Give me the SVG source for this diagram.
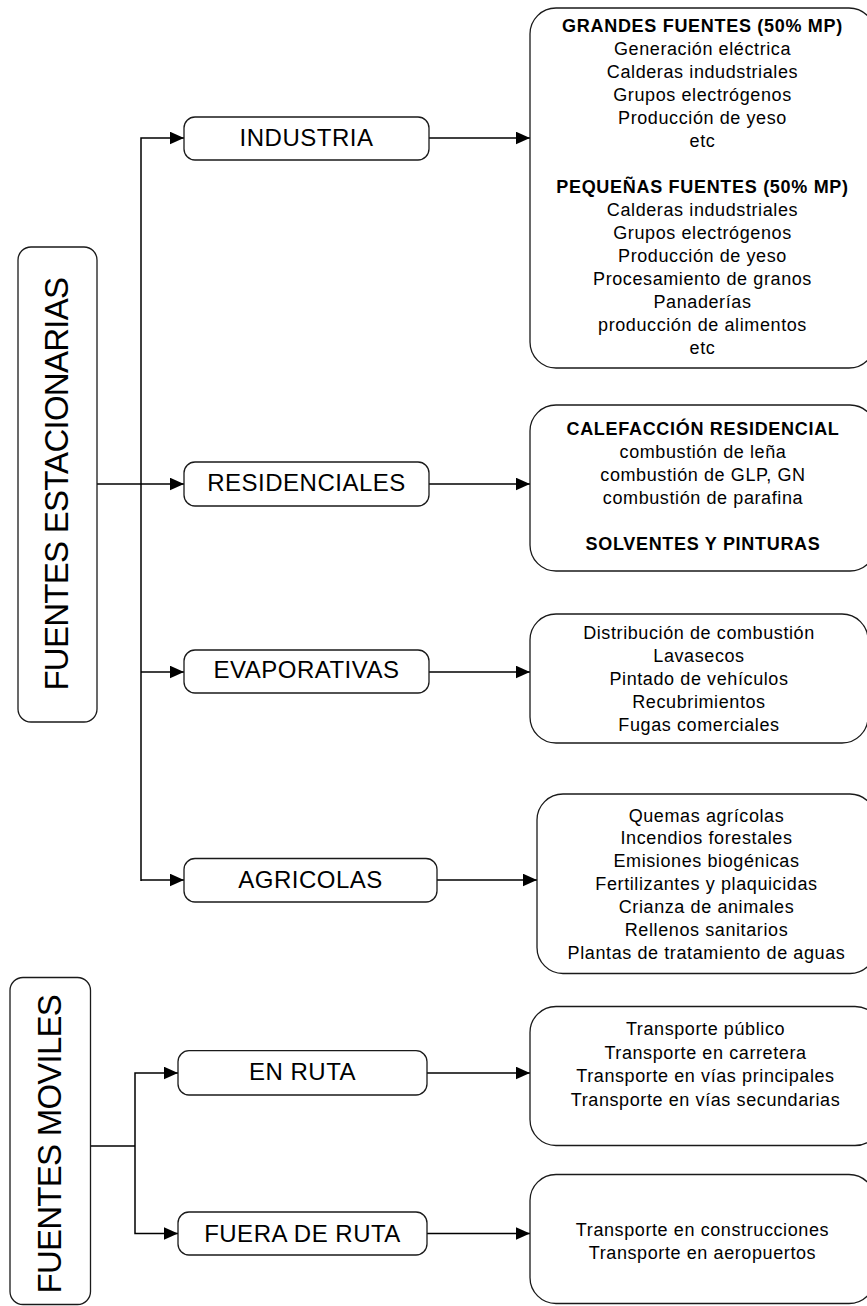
<svg xmlns="http://www.w3.org/2000/svg" width="867" height="1306" viewBox="0 0 867 1306">
<style>
  .box { fill: #ffffff; stroke: #1a1a1a; stroke-width: 1.3; }
  .conn { fill: none; stroke: #000000; stroke-width: 1.5; }
  .big { font-family: "Liberation Sans", Arial, sans-serif; font-size: 33px; letter-spacing: -0.75px; fill: #000; text-anchor: middle; }
  .mid { font-family: "Liberation Sans", Arial, sans-serif; font-size: 24px; letter-spacing: 0.5px; fill: #000; text-anchor: middle; }
  .det { font-family: "Liberation Sans", Arial, sans-serif; font-size: 18px; letter-spacing: 0.6px; fill: #000; text-anchor: middle; }
  .b { font-weight: bold; letter-spacing: 0.7px; }
</style>
<defs>
  <marker id="arr" markerUnits="userSpaceOnUse" markerWidth="14" markerHeight="13" refX="14" refY="6.3" orient="auto">
    <path d="M0,0 L14,6.3 L0,12.6 z" fill="#000"/>
  </marker>
</defs>
<rect width="867" height="1306" fill="#ffffff"/>

<g id="connectors">
  <path class="conn" d="M141,881 L141,138 L184,138" marker-end="url(#arr)"/>
  <path class="conn" d="M97,484 L184,484" marker-end="url(#arr)"/>
  <path class="conn" d="M141,672 L184,672" marker-end="url(#arr)"/>
  <path class="conn" d="M141,880 L184,880" marker-end="url(#arr)"/>
  <path class="conn" d="M429,138 L530,138" marker-end="url(#arr)"/>
  <path class="conn" d="M429,484 L530,484" marker-end="url(#arr)"/>
  <path class="conn" d="M429,672 L530,672" marker-end="url(#arr)"/>
  <path class="conn" d="M437,880 L537,880" marker-end="url(#arr)"/>
  <path class="conn" d="M91,1146 L135,1146"/>
  <path class="conn" d="M135,1146 L135,1073 L178,1073" marker-end="url(#arr)"/>
  <path class="conn" d="M135,1146 L135,1233.5 L178,1233.5" marker-end="url(#arr)"/>
  <path class="conn" d="M427,1073 L530,1073" marker-end="url(#arr)"/>
  <path class="conn" d="M427,1233.5 L530,1233.5" marker-end="url(#arr)"/>
</g>

<g id="fuentes-estacionarias">
  <rect class="box" x="18" y="247" width="79" height="475" rx="13"/>
  <text class="big" transform="translate(68.3,484.2) rotate(-90)">FUENTES ESTACIONARIAS</text>
</g>

<g id="fuentes-moviles">
  <rect class="box" x="10" y="977.5" width="80.5" height="327" rx="13"/>
  <text class="big" transform="translate(61,1144.2) rotate(-90)">FUENTES MOVILES</text>
</g>

<g id="industria">
  <rect class="box" x="184" y="117" width="245" height="43" rx="11"/>
  <text class="mid" x="306.5" y="145.7">INDUSTRIA</text>
</g>
<g id="residenciales">
  <rect class="box" x="184" y="462" width="245" height="44" rx="11"/>
  <text class="mid" x="306.5" y="491">RESIDENCIALES</text>
</g>
<g id="evaporativas">
  <rect class="box" x="184" y="650" width="245" height="43" rx="11"/>
  <text class="mid" x="306.5" y="678.3">EVAPORATIVAS</text>
</g>
<g id="agricolas">
  <rect class="box" x="184" y="858.5" width="253" height="43.5" rx="11"/>
  <text class="mid" x="310.5" y="887.8">AGRICOLAS</text>
</g>
<g id="en-ruta">
  <rect class="box" x="178" y="1050.7" width="249" height="44.3" rx="11"/>
  <text class="mid" x="302.5" y="1080.3">EN RUTA</text>
</g>
<g id="fuera-de-ruta">
  <rect class="box" x="178" y="1212" width="249" height="43" rx="11"/>
  <text class="mid" x="302.5" y="1241.5">FUERA DE RUTA</text>
</g>

<g id="industria-detalle">
  <rect class="box" x="530" y="8" width="345" height="360" rx="26"/>
  <text class="det b" x="702.5" y="32.3">GRANDES FUENTES (50% MP)</text>
  <text class="det" x="702.5" y="55.3">Generación eléctrica</text>
  <text class="det" x="702.5" y="78.3">Calderas indudstriales</text>
  <text class="det" x="702.5" y="101.3">Grupos electrógenos</text>
  <text class="det" x="702.5" y="124.3">Producción de yeso</text>
  <text class="det" x="702.5" y="147.3">etc</text>
  <text class="det b" x="702.5" y="193.3">PEQUEÑAS FUENTES (50% MP)</text>
  <text class="det" x="702.5" y="216.3">Calderas indudstriales</text>
  <text class="det" x="702.5" y="239.3">Grupos electrógenos</text>
  <text class="det" x="702.5" y="262.3">Producción de yeso</text>
  <text class="det" x="702.5" y="285.3">Procesamiento de granos</text>
  <text class="det" x="702.5" y="308.3">Panaderías</text>
  <text class="det" x="702.5" y="331.3">producción de alimentos</text>
  <text class="det" x="702.5" y="354.3">etc</text>
</g>

<g id="residenciales-detalle">
  <rect class="box" x="530" y="405" width="346" height="166" rx="26"/>
  <text class="det b" x="703" y="435">CALEFACCIÓN RESIDENCIAL</text>
  <text class="det" x="703" y="458">combustión de leña</text>
  <text class="det" x="703" y="481">combustión de GLP, GN</text>
  <text class="det" x="703" y="504">combustión de parafina</text>
  <text class="det b" x="703" y="550">SOLVENTES Y PINTURAS</text>
</g>

<g id="evaporativas-detalle">
  <rect class="box" x="530" y="614" width="338" height="129" rx="26"/>
  <text class="det" x="699" y="639">Distribución de combustión</text>
  <text class="det" x="699" y="662">Lavasecos</text>
  <text class="det" x="699" y="685">Pintado de vehículos</text>
  <text class="det" x="699" y="708">Recubrimientos</text>
  <text class="det" x="699" y="731">Fugas comerciales</text>
</g>

<g id="agricolas-detalle">
  <rect class="box" x="537" y="794" width="339" height="179.5" rx="26"/>
  <text class="det" x="706.5" y="821.5">Quemas agrícolas</text>
  <text class="det" x="706.5" y="844.4">Incendios forestales</text>
  <text class="det" x="706.5" y="867.3">Emisiones biogénicas</text>
  <text class="det" x="706.5" y="890.2">Fertilizantes y plaquicidas</text>
  <text class="det" x="706.5" y="913.1">Crianza de animales</text>
  <text class="det" x="706.5" y="936">Rellenos sanitarios</text>
  <text class="det" x="706.5" y="958.9">Plantas de tratamiento de aguas</text>
</g>

<g id="en-ruta-detalle">
  <rect class="box" x="530" y="1006.5" width="351" height="139" rx="26"/>
  <text class="det" x="705.5" y="1035">Transporte público</text>
  <text class="det" x="705.5" y="1058.5">Transporte en carretera</text>
  <text class="det" x="705.5" y="1082">Transporte en vías principales</text>
  <text class="det" x="705.5" y="1105.5">Transporte en vías secundarias</text>
</g>

<g id="fuera-de-ruta-detalle">
  <rect class="box" x="530" y="1174.5" width="345" height="129" rx="26"/>
  <text class="det" x="702.5" y="1235.5">Transporte en construcciones</text>
  <text class="det" x="702.5" y="1258.5">Transporte en aeropuertos</text>
</g>
</svg>
